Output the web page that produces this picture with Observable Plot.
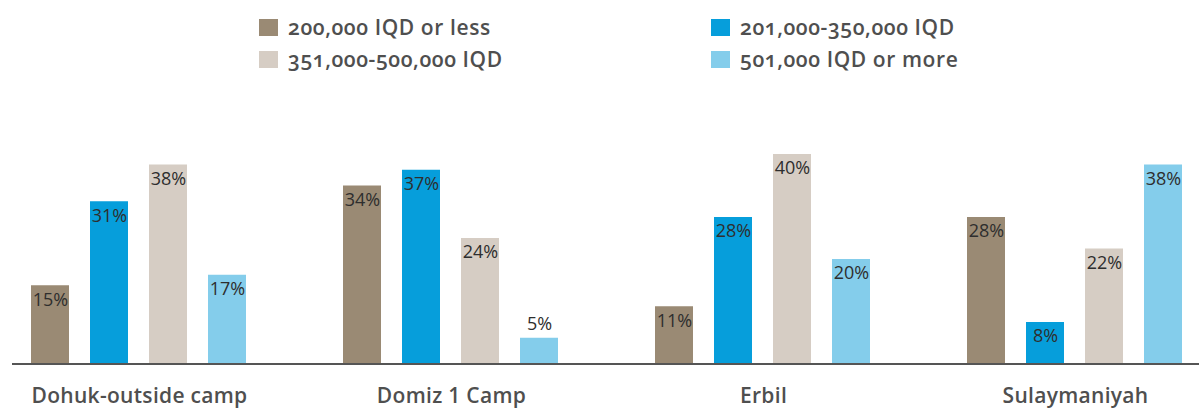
<!DOCTYPE html>
<html>
<head>
<meta charset="utf-8">
<script src="https://cdn.jsdelivr.net/npm/d3@7"></script>
<script src="https://cdn.jsdelivr.net/npm/@observablehq/plot@0.6"></script>
<style>
  html, body { margin: 0; padding: 0; background: #fff; }
  body { width: 1199px; height: 411px; overflow: hidden; font-family: "Open Sans", sans-serif; }
  #legend { position: relative; width: 1199px; height: 80px; }
  .item { position: absolute; display: flex; align-items: center; height: 22px;
          font-size: 21px; font-weight: 600; color: #4f4f4f; letter-spacing: 0.6px;
          font-variant-numeric: oldstyle-nums; white-space: nowrap; }
  .sw { width: 19px; height: 17px; margin-right: 10px; }
  #chart svg g[aria-label^="fx-axis"] text { font-size: 21px; font-weight: 600; fill: #4f4f4f; letter-spacing: 0.3px; }
</style>
</head>
<body>
<div id="legend"></div>
<div id="chart"></div>
<script>
// Data
const regions = ["Dohuk-outside camp", "Domiz 1 Camp", "Erbil", "Sulaymaniyah"];
const brackets = ["200,000 IQD or less", "201,000-350,000 IQD", "351,000-500,000 IQD", "501,000 IQD or more"];
const upTo200k = [15, 34, 11, 28];
const from201to350k = [31, 37, 28, 8];
const from351to500k = [38, 24, 40, 22];
const from501k = [17, 5, 20, 38];
const colors = ["#9a8a74", "#069edb", "#d6cdc4", "#84cdeb"];

const series = [upTo200k, from201to350k, from351to500k, from501k];
const rows = [];
regions.forEach((r, i) => {
  brackets.forEach((b, j) => rows.push({region: r, bracket: b, value: series[j][i]}));
});

// Legend (HTML, above the SVG)
const legendPos = [[259, 16], [711, 16], [259, 48], [711, 48]];
const legend = document.getElementById("legend");
brackets.forEach((b, j) => {
  const it = document.createElement("div");
  it.className = "item";
  it.style.left = legendPos[j][0] + "px";
  it.style.top = legendPos[j][1] + "px";
  const sw = document.createElement("span");
  sw.className = "sw";
  sw.style.background = colors[j];
  it.appendChild(sw);
  it.appendChild(document.createTextNode(b));
  legend.appendChild(it);
});

const baseRows = regions.map(r => ({region: r}));

const chart = Plot.plot({
  width: 1199,
  height: 331,
  marginLeft: 28,
  marginRight: 13,
  marginTop: 74,
  marginBottom: 47,
  style: {fontFamily: "Open Sans, sans-serif", background: "#fff"},
  fx: {domain: regions, paddingInner: 0.3, paddingOuter: 0, label: null, tickSize: 0, tickPadding: 24, axis: "bottom"},
  x: {domain: brackets, paddingInner: 0.35, paddingOuter: 0, axis: null},
  y: {domain: [0, 40], axis: null},
  color: {domain: brackets, range: colors},
  marks: [
    Plot.barY(rows, {fx: "region", x: "bracket", y: "value", fill: "bracket"}),
    Plot.text(rows.filter(d => d.value >= 6), {fx: "region", x: "bracket", y: "value", text: d => d.value + "%", dy: 14, fontSize: 18, fill: "#2e2e2e"}),
    Plot.text(rows.filter(d => d.value < 6), {fx: "region", x: "bracket", y: "value", text: d => d.value + "%", dy: -14, fontSize: 18, fill: "#2e2e2e"}),
    Plot.ruleY(baseRows.slice(0, 1), {fx: "region", y: () => 0, dy: -0.5, stroke: "#555", strokeWidth: 2, shapeRendering: "crispEdges", insetLeft: -18, insetRight: -47.5}),
    Plot.ruleY(baseRows.slice(1), {fx: "region", y: () => 0, dy: -0.5, stroke: "#555", strokeWidth: 2, shapeRendering: "crispEdges", insetLeft: -47.5, insetRight: -47.5})
  ]
});
document.getElementById("chart").appendChild(chart);
</script>
</body>
</html>
